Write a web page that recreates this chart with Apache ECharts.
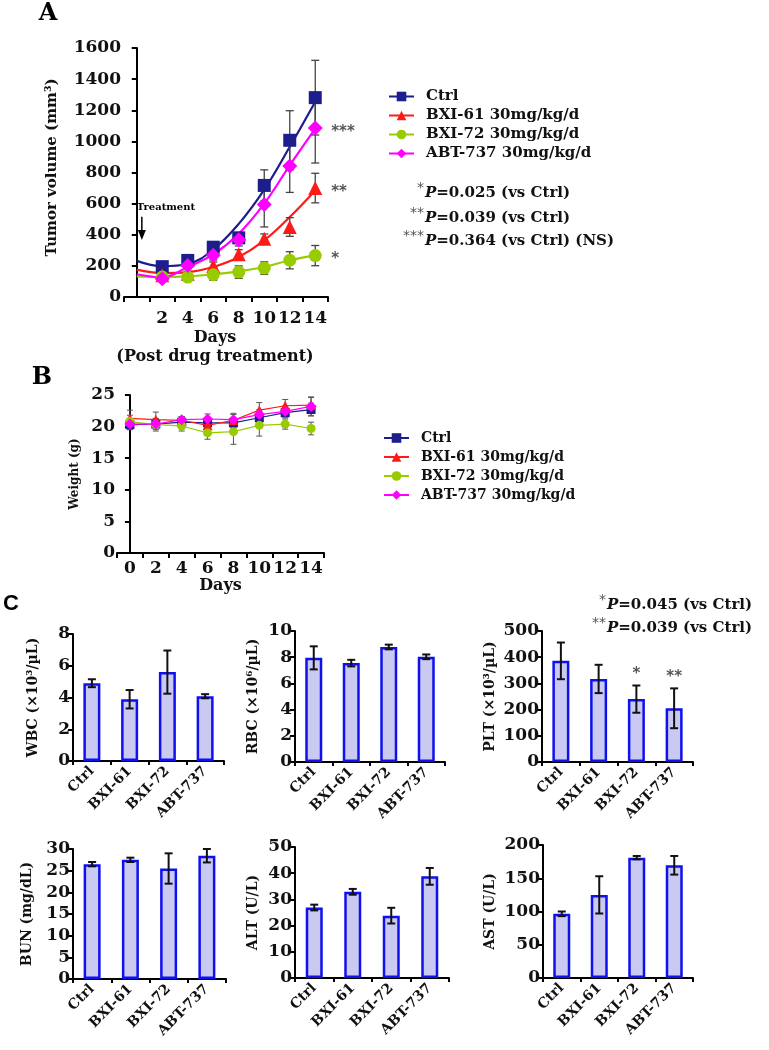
<!DOCTYPE html>
<html><head><meta charset="utf-8">
<script src="https://cdn.jsdelivr.net/npm/echarts@6/dist/echarts.min.js"></script>
<style>html,body{margin:0;padding:0;background:#fff}#c{width:769px;height:1050px}</style>
</head><body><div id="c"></div>
<script>
const FONT = 'DejaVu Serif';

// ---------- Panel A: tumor volume ----------
const groupNames = ['Ctrl', 'BXI-61 30mg/kg/d', 'BXI-72 30mg/kg/d', 'ABT-737 30mg/kg/d'];
const tumorDays = [2, 4, 6, 8, 10, 12, 14];
const tumorCtrl = [195, 235, 320, 380, 717, 1007, 1281];
const tumorCtrlErr = [20, 20, 25, 35, 100, 190, 240];
const tumorBXI61 = [140, 150, 200, 274, 375, 450, 700];
const tumorBXI61Err = [15, 15, 25, 30, 30, 60, 95];
const tumorBXI72 = [128, 128, 143, 160, 186, 236, 266];
const tumorBXI72Err = [15, 15, 35, 40, 40, 55, 65];
const tumorABT = [118, 203, 268, 368, 595, 842, 1086];
const tumorABTErr = [15, 20, 30, 40, 145, 170, 225];
// fitted curves
const fitDays = [0, 2, 4, 6, 8, 10, 12, 14];
const fitCtrl = [232, 198, 212, 305, 470, 690, 965, 1255];
const fitBXI61 = [176, 154, 160, 193, 257, 364, 514, 685];
const fitBXI72 = [133, 128, 133, 146, 165, 193, 236, 268];
const fitABT = [146, 126, 193, 274, 407, 600, 846, 1082];
const sigA = ['***', '**', '*'];
const tumorTicks = [0, 200, 400, 600, 800, 1000, 1200, 1400, 1600];

// ---------- Panel B: body weight ----------
const weightDays = [0, 2, 4, 6, 8, 10, 12, 14];
const wCtrl = [20.3, 20.4, 20.7, 20.6, 20.6, 21.4, 22.2, 22.7];
const wCtrlErr = [0.8, 0.8, 0.6, 0.8, 0.8, 0.8, 0.8, 1.0];
const wBXI61 = [21.3, 21.1, 21.0, 20.2, 21.0, 22.6, 23.3, 23.4];
const wBXI61Err = [1.3, 1.2, 0.6, 0.9, 1.1, 1.2, 1.0, 1.2];
const wBXI72 = [20.8, 20.3, 20.1, 19.0, 19.2, 20.2, 20.4, 19.7];
const wBXI72Err = [1.0, 1.0, 0.8, 1.0, 2.0, 1.7, 0.8, 1.0];
const wABT = [20.4, 20.4, 21.1, 21.2, 21.1, 21.9, 22.4, 23.2];
const wABTErr = [0.8, 0.8, 0.5, 0.8, 0.8, 0.8, 0.8, 1.5];

// ---------- Panel C: blood chemistry ----------
const groups = ['Ctrl', 'BXI-61', 'BXI-72', 'ABT-737'];
const wbc = [4.9, 3.89, 5.6, 4.08];
const wbcErr = [0.25, 0.58, 1.36, 0.13];
const rbc = [7.95, 7.55, 8.78, 8.03];
const rbcErr = [0.88, 0.25, 0.18, 0.18];
const plt = [386, 317, 240, 205];
const pltErr = [70, 54, 52, 76];
const pltSig = ['', '', '*', '**'];
const bun = [26.5, 27.5, 25.5, 28.45];
const bunErr = [0.5, 0.5, 3.5, 1.55];
const alt = [26.9, 32.9, 23.8, 38.8];
const altErr = [1.1, 1.1, 3.0, 3.2];
const ast = [96.5, 125, 181, 169.5];
const astErr = [3.5, 28, 2.5, 14];

// ---------- helpers ----------
const TXT = '#111';
function errorBar(color, lw, cap) {
  return function (params, api) {
    const x = api.value(0), y = api.value(1), e = api.value(2);
    const hi = api.coord([x, y + e]);
    const lo = api.coord([x, y - e]);
    const st = {stroke: color, lineWidth: lw};
    return {type: 'group', children: [
      {type: 'line', shape: {x1: hi[0], y1: hi[1], x2: lo[0], y2: lo[1]}, style: st},
      {type: 'line', shape: {x1: hi[0] - cap, y1: hi[1], x2: hi[0] + cap, y2: hi[1]}, style: st},
      {type: 'line', shape: {x1: lo[0] - cap, y1: lo[1], x2: lo[0] + cap, y2: lo[1]}, style: st}
    ]};
  };
}
const axisLine = {show: true, lineStyle: {color: '#000', width: 2}};
const axisTick = {show: true, length: 5, lineStyle: {color: '#000', width: 2}};
const tickLabel = (size, margin) => ({fontFamily: FONT, fontWeight: 'bold', fontSize: size, color: TXT, margin: margin, formatter: v => String(v)});

const grids = [
  {left: 124, top: 48, width: 204, height: 249},
  {left: 117, top: 395, width: 207, height: 158},
  {left: 73, top: 634, width: 151, height: 127},
  {left: 295, top: 631, width: 150, height: 131},
  {left: 542, top: 631, width: 151, height: 131},
  {left: 73, top: 849, width: 153, height: 130},
  {left: 295, top: 847, width: 154, height: 131},
  {left: 543, top: 845, width: 150, height: 133}
];

const xAxis = [
  {type: 'value', gridIndex: 0, position: 'bottom', min: -1, max: 15, interval: 2, axisLine, axisTick, axisLabel: {show: false}, splitLine: {show: false}},
  {type: 'value', gridIndex: 0, position: 'bottom', min: -1, max: 15, interval: 1, axisLine: {show: false}, axisTick: {show: false}, splitLine: {show: false},
    axisLabel: Object.assign(tickLabel(17, 13), {formatter: v => (v >= 2 && v % 2 === 0) ? String(v) : ''}),
    name: 'Days\n(Post drug treatment)', nameLocation: 'middle', nameGap: 28,
    nameTextStyle: {fontFamily: FONT, fontWeight: 'bold', fontSize: 16, color: TXT, lineHeight: 19, padding: [0, 22, 0, 0]}},
  {type: 'value', gridIndex: 1, position: 'bottom', min: -1, max: 15, interval: 2, axisLine, axisTick, axisLabel: {show: false}, splitLine: {show: false}},
  {type: 'value', gridIndex: 1, position: 'bottom', min: -1, max: 15, interval: 1, axisLine: {show: false}, axisTick: {show: false}, splitLine: {show: false},
    axisLabel: Object.assign(tickLabel(17, 7), {formatter: v => (v >= 0 && v % 2 === 0) ? String(v) : ''}),
    name: 'Days', nameLocation: 'middle', nameGap: 19,
    nameTextStyle: {fontFamily: FONT, fontWeight: 'bold', fontSize: 16, color: TXT}}
];
const yAxis = [
  {type: 'value', gridIndex: 0, min: tumorTicks[0], max: tumorTicks[tumorTicks.length - 1], interval: 200, axisLine, axisTick,
    splitLine: {show: false}, axisLabel: tickLabel(17, 3),
    name: 'Tumor volume (mm³)', nameLocation: 'middle', nameGap: 64, nameRotate: 90,
    nameTextStyle: {fontFamily: FONT, fontWeight: 'bold', fontSize: 15, color: TXT, padding: [0, 0, 0, 10]}},
  {type: 'value', gridIndex: 1, min: 0, max: 25, interval: 5, axisLine, axisTick,
    splitLine: {show: false}, axisLabel: tickLabel(17, 2),
    name: 'Weight (g)', nameLocation: 'middle', nameGap: 36, nameRotate: 90,
    nameTextStyle: {fontFamily: FONT, fontWeight: 'bold', fontSize: 12, color: TXT}}
];

const series = [];

// Panel A series
const aSets = [
  {name: groupNames[0], pts: tumorCtrl, err: tumorCtrlErr, fit: fitCtrl, color: '#1d1d8c', symbol: 'rect', size: 13},
  {name: groupNames[1], pts: tumorBXI61, err: tumorBXI61Err, fit: fitBXI61, color: '#ff1a1a', symbol: 'triangle', size: 14},
  {name: groupNames[2], pts: tumorBXI72, err: tumorBXI72Err, fit: fitBXI72, color: '#99cc00', symbol: 'circle', size: 13},
  {name: groupNames[3], pts: tumorABT, err: tumorABTErr, fit: fitABT, color: '#ff00ff', symbol: 'diamond', size: 15}
];
aSets.forEach((s, k) => {
  series.push({type: 'line', name: s.name, xAxisIndex: 0, yAxisIndex: 0, smooth: 0.4,
    data: fitDays.map((d, i) => [d, s.fit[i]]), showSymbol: false, symbol: s.symbol, symbolSize: 12,
    lineStyle: {color: s.color, width: 2.2}, itemStyle: {color: s.color}, z: 2 + k * 0.01});
  series.push({type: 'custom', name: s.name + ' error', xAxisIndex: 0, yAxisIndex: 0,
    renderItem: errorBar('#444', 1.3, 4), data: tumorDays.map((d, i) => [d, s.pts[i], s.err[i]]), z: 3});
});
aSets.forEach((s, k) => {
  series.push({type: 'scatter', name: s.name + ' mean', xAxisIndex: 0, yAxisIndex: 0,
    data: tumorDays.map((d, i) => [d, s.pts[i]]), symbol: s.symbol, symbolSize: s.size,
    itemStyle: {color: s.color, opacity: 1}, z: 5 + k});
});
// significance near last points
const sigSource = [tumorABT, tumorBXI61, tumorBXI72];
series.push({type: 'custom', name: 'sigA', xAxisIndex: 0, yAxisIndex: 0, z: 10,
  data: sigSource.map(a => [tumorDays[tumorDays.length - 1], a[a.length - 1]]),
  renderItem: (params, api) => {
    const p = api.coord([api.value(0), api.value(1)]);
    return {type: 'text', x: p[0] + 16, y: p[1] + 4,
      style: {text: sigA[params.dataIndex], fill: '#555', font: 'bold 15px "DejaVu Sans"', align: 'left', verticalAlign: 'middle'}};
  }});
// treatment arrow annotation
series.push({type: 'custom', name: 'treatment', xAxisIndex: 0, yAxisIndex: 0, z: 10,
  data: [[0.4, 516, 366]],
  renderItem: (params, api) => {
    const t = api.coord([api.value(0), api.value(1)]);
    const b = api.coord([api.value(0), api.value(2)]);
    return {type: 'group', children: [
      {type: 'line', shape: {x1: t[0], y1: t[1], x2: b[0], y2: b[1] - 8}, style: {stroke: '#000', lineWidth: 1.5}},
      {type: 'polygon', shape: {points: [[b[0] - 4, b[1] - 10], [b[0] + 4, b[1] - 10], [b[0], b[1]]]}, style: {fill: '#000'}},
      {type: 'text', x: t[0] - 5, y: t[1] - 4, style: {text: 'Treatment', font: 'bold 10px "DejaVu Serif"', fill: '#000', align: 'left', verticalAlign: 'bottom'}}
    ]};
  }});

// Panel B series
const bSets = [
  {name: groupNames[0], v: wCtrl, e: wCtrlErr, color: '#1d1d8c', symbol: 'rect', size: 9},
  {name: groupNames[1], v: wBXI61, e: wBXI61Err, color: '#ff1a1a', symbol: 'triangle', size: 10},
  {name: groupNames[2], v: wBXI72, e: wBXI72Err, color: '#99cc00', symbol: 'circle', size: 9},
  {name: groupNames[3], v: wABT, e: wABTErr, color: '#ff00ff', symbol: 'diamond', size: 11}
];
bSets.forEach((s, k) => {
  series.push({type: 'custom', name: s.name + ' werr', xAxisIndex: 2, yAxisIndex: 1,
    renderItem: errorBar('#555', 1, 3), data: weightDays.map((d, i) => [d, s.v[i], s.e[i]]), z: 2});
});
bSets.forEach((s, k) => {
  series.push({type: 'line', name: s.name, xAxisIndex: 2, yAxisIndex: 1,
    data: weightDays.map((d, i) => [d, s.v[i]]), symbol: s.symbol, symbolSize: s.size, showSymbol: true,
    lineStyle: {color: s.color, width: 1.2}, itemStyle: {color: s.color}, z: 4 + k});
});

// Panel C
const cPanels = [
  {title: 'WBC (×10³/µL)', v: wbc, e: wbcErr, max: 8, step: 2, gap: 33},
  {title: 'RBC (×10⁶/µL)', v: rbc, e: rbcErr, max: 10, step: 2, gap: 35},
  {title: 'PLT (×10³/µL)', v: plt, e: pltErr, max: 500, step: 100, gap: 45, sig: pltSig},
  {title: 'BUN (mg/dL)', v: bun, e: bunErr, max: 30, step: 5, gap: 39},
  {title: 'ALT (U/L)', v: alt, e: altErr, max: 50, step: 10, gap: 35},
  {title: 'AST (U/L)', v: ast, e: astErr, max: 200, step: 50, gap: 46}
];
cPanels.forEach((p, k) => {
  const xi = xAxis.length, yi = yAxis.length;
  xAxis.push({type: 'category', gridIndex: 2 + k, position: 'bottom', data: groups, axisLine, axisTick: {show: true, length: 4, lineStyle: {color: '#000', width: 2}},
    axisLabel: {fontFamily: FONT, fontWeight: 'bold', fontSize: 14, color: TXT, margin: 8, rotate: 45, interval: 0}});
  yAxis.push({type: 'value', gridIndex: 2 + k, min: 0, max: p.max, interval: p.step, axisLine, axisTick,
    splitLine: {show: false}, axisLabel: tickLabel(17, 3),
    name: p.title, nameLocation: 'middle', nameGap: p.gap, nameRotate: 90,
    nameTextStyle: {fontFamily: FONT, fontWeight: 'bold', fontSize: 14, color: TXT}});
  series.push({type: 'bar', name: p.title + ' bar', xAxisIndex: xi, yAxisIndex: yi, data: p.v, barWidth: 17,
    itemStyle: {color: '#c9c9f2', borderColor: '#1010ee', borderWidth: 2.5}, z: 2});
  series.push({type: 'custom', name: p.title + ' err', xAxisIndex: xi, yAxisIndex: yi, z: 3,
    renderItem: errorBar('#111', 2, 4), data: p.v.map((v, i) => [i, v, p.e[i]])});
  if (p.sig) {
    series.push({type: 'custom', name: p.title + ' sig', xAxisIndex: xi, yAxisIndex: yi, z: 4,
      data: p.v.map((v, i) => [i, v + p.e[i]]),
      renderItem: (params, api) => {
        const pt = api.coord([api.value(0), api.value(1)]);
        return {type: 'text', x: pt[0], y: pt[1] - 11,
          style: {text: p.sig[params.dataIndex], fill: '#555', font: 'bold 15px "DejaVu Sans"', align: 'center', verticalAlign: 'middle'}};
      }});
  }
});

const legendText = size => ({fontFamily: FONT, fontWeight: 'bold', fontSize: size, color: TXT, padding: [0, 0, 0, 7]});
function pLine(stars, rest, xP, y) {
  return [
    {type: 'text', x: xP - 1, y: y - 5, style: {text: stars, fill: '#555', font: '14px "DejaVu Sans"', align: 'right', verticalAlign: 'middle'}},
    {type: 'text', x: xP, y: y, style: {text: '{p|P}{t|' + rest + '}', fill: TXT, align: 'left', verticalAlign: 'middle',
      rich: {p: {fontFamily: FONT, fontWeight: 'bold', fontStyle: 'italic', fontSize: 15, fill: TXT},
             t: {fontFamily: FONT, fontWeight: 'bold', fontSize: 15, fill: TXT}}}}
  ];
}

const option = {
  animation: false,
  backgroundColor: '#fff',
  grid: grids,
  xAxis, yAxis, series,
  legend: [
    {data: groupNames, orient: 'vertical', left: 383, top: 84, itemWidth: 25, itemHeight: 12, itemGap: 4,
      textStyle: legendText(15)},
    {data: groupNames, orient: 'vertical', left: 378, top: 426, itemWidth: 25, itemHeight: 12, itemGap: 5,
      textStyle: legendText(14)}
  ],
  graphic: [
    {type: 'text', x: 48, y: 14, style: {text: 'A', font: 'bold 24px "DejaVu Serif"', fill: '#000', align: 'center', verticalAlign: 'middle'}},
    {type: 'text', x: 42, y: 378, style: {text: 'B', font: 'bold 24px "DejaVu Serif"', fill: '#000', align: 'center', verticalAlign: 'middle'}},
    {type: 'text', x: 11, y: 604, style: {text: 'C', font: 'bold 22px "Liberation Sans"', fill: '#000', align: 'center', verticalAlign: 'middle'}},
    ...pLine('*', '=0.025 (vs Ctrl)', 425, 193),
    ...pLine('**', '=0.039 (vs Ctrl)', 425, 218),
    ...pLine('***', '=0.364 (vs Ctrl) (NS)', 425, 241),
    ...pLine('*', '=0.045 (vs Ctrl)', 607, 605),
    ...pLine('**', '=0.039 (vs Ctrl)', 607, 628)
  ]
};

const chart = echarts.init(document.getElementById('c'), null, {width: 769, height: 1050});
chart.setOption(option);
</script>
</body></html>
